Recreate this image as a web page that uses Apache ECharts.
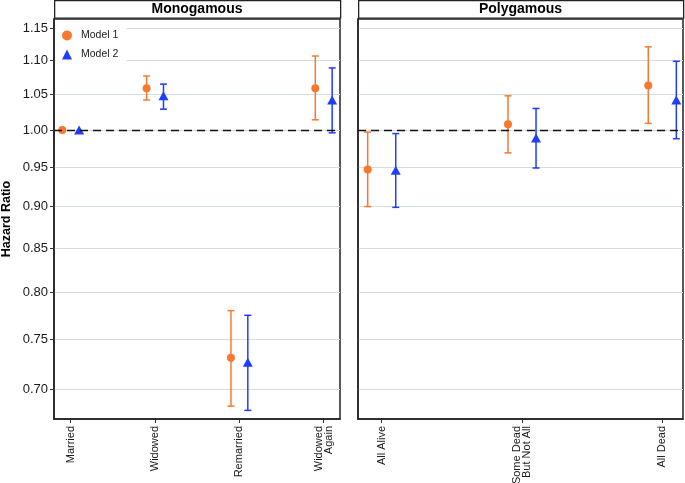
<!DOCTYPE html>
<html>
<head>
<meta charset="utf-8">
<script src="https://cdn.jsdelivr.net/npm/echarts@6/dist/echarts.min.js"></script>
<style>html,body{margin:0;padding:0;background:#fff}#c{width:685px;height:483px}</style>
</head>
<body>
<div id="c"></div>
<script>
// ---- data ----
const monoCategories = ['Married', 'Widowed', 'Remarried', 'Widowed\nAgain'];
const monoM1 = [1.000, 1.059, 0.731, 1.059];
const monoM1Lo = [null, 1.042, 0.684, 1.014];
const monoM1Hi = [null, 1.077, 0.780, 1.107];
const monoM2 = [1.000, 1.048, 0.7265, 1.042];
const monoM2Lo = [null, 1.029, 0.680, 0.996];
const monoM2Hi = [null, 1.065, 0.775, 1.089];

const polyCategories = ['All Alive', 'Some Dead\nBut Not All', 'All Dead'];
const polyM1 = [0.947, 1.008, 1.063];
const polyM1Lo = [0.900, 0.969, 1.009];
const polyM1Hi = [0.997, 1.048, 1.121];
const polyM2 = [0.946, 0.989, 1.042];
const polyM2Lo = [0.899, 0.949, 0.988];
const polyM2Hi = [0.995, 1.030, 1.099];

const yTickLabels = [0.70, 0.75, 0.80, 0.85, 0.90, 0.95, 1.00, 1.05, 1.10, 1.15];
const panelTitles = ['Monogamous', 'Polygamous'];

// ---- build ----
const ORANGE = '#F8782D';
const BLUE = '#1F3CFF';
const FONT = 'Liberation Sans, Arial, sans-serif';
const DODGE = 0.1;
const ln = Math.log;
const yTickVals = yTickLabels.map(v => ln(v));

function pointData(vals, off) {
  return vals.map((v, i) => [i + 1 + off, ln(v)]);
}
function barData(lo, hi, off) {
  const out = [];
  lo.forEach((l, i) => { if (l != null && hi[i] != null) out.push([i + 1 + off, ln(l), ln(hi[i])]); });
  return out;
}
function errRender(color) {
  return function (params, api) {
    const x = api.value(0);
    const a = api.coord([x, api.value(1)]);
    const b = api.coord([x, api.value(2)]);
    const w = 3.5;
    const st = { stroke: color, lineWidth: 1.5 };
    return { type: 'group', children: [
      { type: 'line', shape: { x1: a[0], y1: a[1], x2: b[0], y2: b[1] }, style: st },
      { type: 'line', shape: { x1: a[0] - w, y1: a[1], x2: a[0] + w, y2: a[1] }, style: st },
      { type: 'line', shape: { x1: b[0] - w, y1: b[1], x2: b[0] + w, y2: b[1] }, style: st }
    ] };
  };
}

const grids = [
  { left: 54, top: 19, width: 286, height: 400 },
  { left: 358, top: 19, width: 325, height: 400 }
];
const xRanges = [[0.802, 4.193], [0.831, 3.1476]];
const cats = [monoCategories, polyCategories];

const xAxes = cats.map((c, k) => ({
  type: 'value', gridIndex: k, min: xRanges[k][0], max: xRanges[k][1],
  axisLine: { show: true, onZero: false, lineStyle: { color: '#222', width: 1.5 } },
  splitLine: { show: false },
  axisTick: { show: true, length: 4, customValues: c.map((_, i) => i + 1), lineStyle: { color: '#333', width: 1 } },
  axisLabel: {
    customValues: c.map((_, i) => i + 1), rotate: 90, margin: 7,
    fontFamily: FONT, fontSize: 11, color: '#1a1a1a', lineHeight: 10,
    formatter: v => c[Math.round(v) - 1] || ''
  }
}));

const yAxes = [0, 1].map(k => ({
  type: 'value', gridIndex: k, min: ln(0.672), max: ln(1.1648),
  name: k === 0 ? 'Hazard Ratio' : '', nameLocation: 'middle', nameGap: 41,
  nameTextStyle: { fontFamily: FONT, fontSize: 12.5, fontWeight: 'bold', color: '#000' },
  axisLine: { show: true, onZero: false, lineStyle: { color: '#222', width: 1.5 } },
  axisTick: { show: k === 0, length: 4, customValues: yTickVals, lineStyle: { color: '#333', width: 1 } },
  axisLabel: {
    show: k === 0, customValues: yTickVals, margin: 6,
    fontFamily: FONT, fontSize: 13, color: '#1a1a1a',
    formatter: v => Math.exp(v).toFixed(2)
  },
  splitLine: { show: true, lineStyle: { color: '#d5dcdc', width: 1 } }
}));

const series = [];
const sets = [
  [monoM1, monoM1Lo, monoM1Hi, monoM2, monoM2Lo, monoM2Hi],
  [polyM1, polyM1Lo, polyM1Hi, polyM2, polyM2Lo, polyM2Hi]
];
sets.forEach((s, k) => {
  series.push({
    type: 'custom', name: 'Model 1', xAxisIndex: k, yAxisIndex: k, z: 3,
    renderItem: errRender(ORANGE), data: barData(s[1], s[2], -DODGE), itemStyle: { color: ORANGE },
    markLine: {
      silent: true, symbol: 'none', label: { show: false },
      lineStyle: { color: '#111', type: [8, 5], width: 1.3 },
      data: [{ yAxis: 0 }]
    }
  });
  series.push({
    type: 'custom', name: 'Model 2', xAxisIndex: k, yAxisIndex: k, z: 3,
    renderItem: errRender(BLUE), data: barData(s[4], s[5], DODGE), itemStyle: { color: BLUE }
  });
  series.push({
    type: 'scatter', name: 'Model 1', xAxisIndex: k, yAxisIndex: k, z: 4,
    symbol: 'circle', symbolSize: 8, itemStyle: { color: ORANGE, opacity: 1 },
    data: pointData(s[0], -DODGE)
  });
  series.push({
    type: 'scatter', name: 'Model 2', xAxisIndex: k, yAxisIndex: k, z: 4,
    symbol: 'triangle', symbolSize: [10, 9], itemStyle: { color: BLUE, opacity: 1 },
    data: pointData(s[3], DODGE)
  });
});

const graphics = [];
grids.forEach((g, k) => {
  graphics.push({
    type: 'rect', left: g.left, top: 0,
    shape: { x: 0, y: 0, width: g.width, height: 17.5 },
    style: { fill: '#fff', stroke: '#222', lineWidth: 1.3 }
  });
  graphics.push({
    type: 'text', x: g.left + g.width / 2, y: 9.5,
    style: { text: panelTitles[k], fontFamily: FONT, fontSize: 14, fontWeight: 'bold', fill: '#000', align: 'center', verticalAlign: 'middle' }
  });
});

const chart = echarts.init(document.getElementById('c'), null, { renderer: 'canvas' });
chart.setOption({
  animation: false,
  backgroundColor: '#fff',
  grid: grids.map(g => Object.assign({ show: true, borderColor: '#222', borderWidth: 1.5, backgroundColor: 'transparent', containLabel: false, outerBoundsMode: 'none' }, g)),
  xAxis: xAxes,
  yAxis: yAxes,
  legend: {
    left: 56, top: 26, orient: 'vertical', itemWidth: 10, itemHeight: 10, itemGap: 8,
    backgroundColor: '#fff', padding: [4, 8, 4, 6],
    textStyle: { fontFamily: FONT, fontSize: 10.5, color: '#1a1a1a', padding: [0, 0, 0, 4] },
    data: [{ name: 'Model 1', icon: 'circle' }, { name: 'Model 2', icon: 'triangle' }]
  },
  graphic: graphics,
  series: series
});
</script>
</body>
</html>
